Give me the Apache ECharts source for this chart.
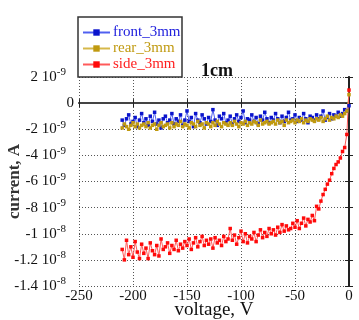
<!DOCTYPE html>
<html>
<head>
<meta charset="utf-8">
<script src="https://cdn.jsdelivr.net/npm/echarts@6/dist/echarts.min.js"></script>
<style>
  html, body { margin: 0; padding: 0; background: #fff; }
  #chart { width: 359px; height: 320px; }
</style>
</head>
<body>
<div id="chart"></div>
<script>
// bias voltage, V
const voltage = [
  -210, -208, -206, -204, -202, -200, -198, -196, -194, -192,
  -190, -188, -186, -184, -182, -180, -178, -176, -174, -172,
  -170, -168, -166, -164, -162, -160, -158, -156, -154, -152,
  -150, -148, -146, -144, -142, -140, -138, -136, -134, -132,
  -130, -128, -126, -124, -122, -120, -118, -116, -114, -112,
  -110, -108, -106, -104, -102, -100, -98, -96, -94, -92,
  -90, -88, -86, -84, -82, -80, -78, -76, -74, -72,
  -70, -68, -66, -64, -62, -60, -58, -56, -54, -52,
  -50, -48, -46, -44, -42, -40, -38, -36, -34, -32,
  -30, -28, -26, -24, -22, -20, -18, -16, -14, -12,
  -10, -8, -6, -4, -2, 0
];

// currents in units of 1e-9 A
const frontCurrent = [
  -1.3, -1.7, -1.2, -0.9, -1.6, -1.4, -1.1, -1.8, -1.3, -0.8,
  -1.5, -1.2, -1.7, -1.0, -1.4, -0.7, -1.6, -1.3, -1.9, -1.2,
  -1.0, -1.5, -1.3, -0.8, -1.6, -1.2, -1.4, -0.9, -1.7, -1.3,
  -0.6, -1.4, -1.1, -1.8, -0.8, -1.3, -1.5, -0.9, -1.2, -1.6,
  -1.1, -1.4, -0.5, -1.3, -1.7, -1.0, -1.2, -0.8, -1.5, -1.3,
  -1.0, -1.6, -1.2, -0.9, -1.4, -1.1, -0.6, -1.5, -1.2, -1.3,
  -0.9, -1.4, -1.1, -1.6, -1.0, -1.3, -0.7, -1.2, -1.5, -1.1,
  -1.3, -0.8, -1.2, -1.5, -1.0, -1.4, -1.1, -0.7, -1.3, -1.2,
  -0.9, -1.4, -1.1, -1.3, -0.8, -1.2, -1.5, -1.0, -1.1, -1.3,
  -0.9, -1.2, -1.0, -0.6, -1.3, -1.1, -0.8, -1.2, -0.9, -1.0,
  -0.7, -1.0, -0.8, -0.5, -0.6, -0.2
];

const rearCurrent = [
  -1.9, -1.6, -1.8, -2.0, -1.7, -1.5, -1.8, -1.6, -1.9, -1.7,
  -1.6, -1.8, -1.5, -1.9, -1.7, -1.6, -2.0, -1.7, -1.5, -1.8,
  -1.7, -1.6, -1.9, -1.5, -1.8, -1.6, -1.7, -1.4, -1.8, -1.6,
  -1.7, -1.9, -1.5, -1.6, -1.8, -1.4, -1.7, -1.6, -1.9, -1.5,
  -1.6, -1.8, -1.5, -1.7, -1.4, -1.6, -1.8, -1.5, -1.6, -1.7,
  -1.5, -1.7, -1.4, -1.6, -1.8, -1.5, -1.6, -1.4, -1.7, -1.5,
  -1.6, -1.4, -1.5, -1.7, -1.3, -1.6, -1.5, -1.4, -1.6, -1.5,
  -1.4, -1.6, -1.3, -1.5, -1.4, -1.7, -1.3, -1.5, -1.4, -1.3,
  -1.5, -1.3, -1.4, -1.2, -1.5, -1.3, -1.4, -1.2, -1.3, -1.4,
  -1.2, -1.3, -1.1, -1.4, -1.2, -1.0, -1.3, -1.1, -1.2, -1.0,
  -1.1, -0.9, -1.0, -0.8, -0.6, 0.65
];

const sideCurrent = [
  -11.2, -12.0, -10.5, -11.6, -11.0, -11.8, -10.6, -11.4, -11.9, -10.8,
  -11.5, -11.1, -11.9, -10.7, -11.3, -11.6, -10.9, -11.7, -10.4, -11.2,
  -11.0, -10.7, -11.5, -10.9, -11.2, -10.5, -11.3, -10.8, -11.1, -10.6,
  -10.9, -10.4, -11.2, -10.7, -10.3, -11.0, -10.6, -10.2, -10.9, -10.5,
  -10.8, -10.4, -11.1, -10.3, -10.7, -10.5, -10.9, -10.2, -10.6, -10.4,
  -9.6, -10.5, -10.1, -10.8, -10.3, -9.8, -10.6, -10.0, -10.7, -10.2,
  -10.4, -9.9, -10.6, -10.1, -9.7, -10.3, -9.9, -10.2, -9.6, -10.0,
  -9.7, -10.1, -9.5, -9.9, -9.3, -9.8, -9.4, -9.7, -9.6, -9.2,
  -9.5, -9.0, -9.6, -9.2, -8.8, -9.4, -8.9, -9.1, -8.6, -9.0,
  -7.9, -8.1, -7.5, -7.0, -6.6, -6.2, -5.9, -5.4, -5.0, -4.7,
  -4.5, -4.2, -3.7, -3.4, -2.4, 1.0
];

const seriesNames = ['front_3mm', 'rear_3mm', 'side_3mm'];

// y tick labels: mantissa and power of ten
const yTickValues = [2, 0, -2, -4, -6, -8, -10, -12, -14];
const yTickMantissa = ['2', '0', '-2', '-4', '-6', '-8', '-1', '-1.2', '-1.4'];
const yTickExponent = ['-9', '', '-9', '-9', '-9', '-9', '-8', '-8', '-8'];

const FONT = 'Liberation Serif';

const chart = echarts.init(document.getElementById('chart'));

const pairs = (arr) => voltage.map((v, i) => [v, arr[i]]);

const frame = { show: true, lineStyle: { color: '#222', width: 1.5 } };
const dotted = { show: true, lineStyle: { color: '#555', type: [1, 2], width: 1 } };

const option = {
  animation: false,
  backgroundColor: '#fff',
  grid: { left: 79, right: 10, top: 77, height: 209, outerBoundsMode: 'none' },
  title: {
    text: '1cm',
    left: 196,
    top: 57,
    textStyle: { fontFamily: FONT, fontSize: 18, fontWeight: 'bold', color: '#111' }
  },
  legend: {
    orient: 'vertical',
    left: 82,
    top: 25,
    itemGap: 1,
    itemWidth: 27,
    itemHeight: 8,
    padding: 0,
    data: [
      { name: seriesNames[0], textStyle: { color: '#2222dd' } },
      { name: seriesNames[1], textStyle: { color: '#c09a10' } },
      { name: seriesNames[2], textStyle: { color: '#ff2020' } }
    ],
    textStyle: { fontFamily: FONT, fontSize: 15, padding: [0, 0, 0, -2] }
  },
  graphic: [
    {
      type: 'rect',
      shape: { x: 78, y: 17, width: 104, height: 60 },
      style: { fill: 'none', stroke: '#333', lineWidth: 1.5 },
      z: 10
    }
  ],
  xAxis: [
    {
      type: 'value',
      min: -250,
      max: 0,
      interval: 50,
      position: 'bottom',
      name: 'voltage, V',
      nameLocation: 'middle',
      nameGap: 15,
      nameMoveOverlap: false,
      nameTextStyle: { fontFamily: FONT, fontSize: 19, color: '#111' },
      axisLine: frame,
      axisTick: { inside: true, length: 4, lineStyle: { color: '#222' } },
      axisLabel: { fontFamily: FONT, fontSize: 15, color: '#111', margin: 3 },
      splitLine: dotted
    },
    {
      type: 'value',
      min: -250,
      max: 0,
      interval: 50,
      position: 'top',
      axisLine: { show: true, lineStyle: { color: '#444', width: 2 } },
      axisTick: { inside: true, length: 4, lineStyle: { color: '#222' } },
      axisLabel: { show: false },
      splitLine: { show: false }
    }
  ],
  yAxis: [
    {
      type: 'value',
      min: -14,
      max: 2,
      interval: 2,
      position: 'left',
      name: 'current, A',
      nameLocation: 'middle',
      nameGap: 56,
      nameRotate: 90,
      nameMoveOverlap: false,
      nameTextStyle: { fontFamily: FONT, fontSize: 17, fontWeight: 'bold', color: '#333' },
      axisLine: frame,
      axisTick: { inside: true, length: 4, lineStyle: { color: '#222' } },
      axisLabel: {
        margin: 5,
        formatter: function (value) {
          const i = yTickValues.indexOf(value);
          if (i < 0) return '';
          if (!yTickExponent[i]) return '{m|' + yTickMantissa[i] + '}';
          return '{m|' + yTickMantissa[i] + ' 10}{s|' + yTickExponent[i] + '}{g|}';
        },
        rich: {
          m: { fontFamily: FONT, fontSize: 15, color: '#111' },
          s: { fontFamily: FONT, fontSize: 11, color: '#111', padding: [0, 0, 9, 0] },
          g: { width: 8 }
        }
      },
      splitLine: dotted
    },
    {
      type: 'value',
      min: -14,
      max: 2,
      interval: 2,
      position: 'right',
      axisLine: { show: true, lineStyle: { color: '#222', width: 2 } },
      axisTick: { inside: true, length: 4, lineStyle: { color: '#222' } },
      axisLabel: { show: false },
      splitLine: { show: false }
    }
  ],
  series: [
    {
      name: seriesNames[0],
      type: 'line',
      data: pairs(frontCurrent),
      symbol: 'rect',
      symbolSize: 3.5,
      itemStyle: { color: '#0a14cc' },
      lineStyle: { color: '#5060f0', width: 1 }
    },
    {
      name: seriesNames[1],
      type: 'line',
      data: pairs(rearCurrent),
      symbol: 'rect',
      symbolSize: 3.5,
      itemStyle: { color: '#c09a10' },
      lineStyle: { color: '#d6b84a', width: 1 }
    },
    {
      name: seriesNames[2],
      type: 'line',
      data: pairs(sideCurrent),
      symbol: 'rect',
      symbolSize: 3.5,
      itemStyle: { color: '#ff0a0a' },
      lineStyle: { color: '#ff5a5a', width: 1 }
    }
  ]
};

chart.setOption(option);
</script>
</body>
</html>
